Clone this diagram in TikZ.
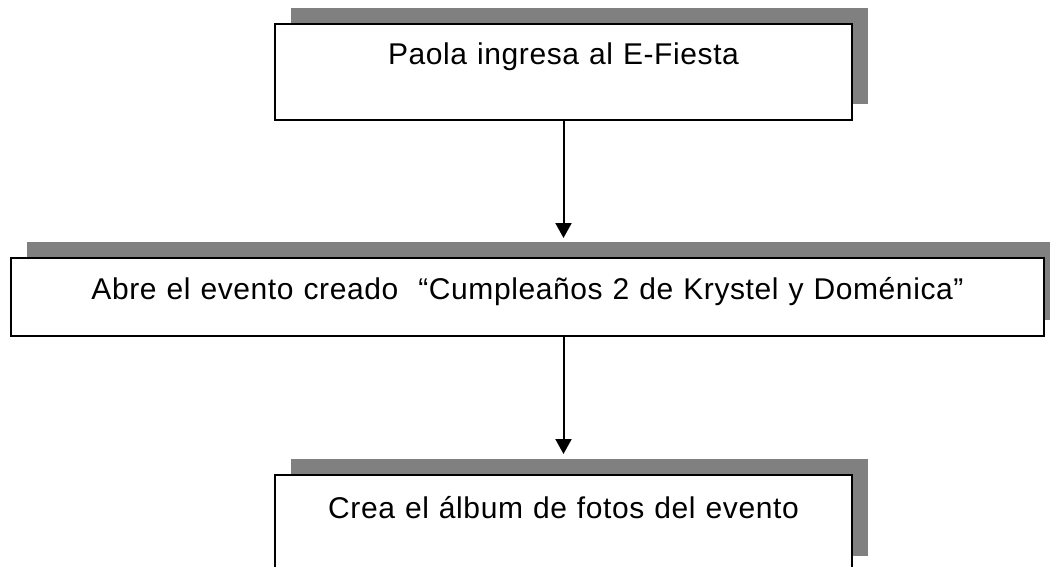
\documentclass[tikz,border=0pt]{standalone}
\usepackage{fontspec}
\setmainfont{Liberation Sans}
\newfontfamily\cajafont{Liberation Sans}[LetterSpace=2]
\usepackage{tikz}
\usetikzlibrary{arrows.meta,positioning,shadows}

\begin{document}
\begin{tikzpicture}[x=1pt,y=-1pt,
        paso/.style={draw,line width=2pt,fill=white,inner sep=0pt,align=center,anchor=north west,
            font=\cajafont\fontsize{30}{36}\selectfont,
            drop shadow={shadow xshift=16pt,shadow yshift=16pt,fill=gray,opacity=1}},
        flecha/.style={-{Triangle[width=16pt,length=15pt]},line width=2pt}]
            % page of the reference
            \useasboundingbox (0,0) rectangle (1050,567);
            \clip (0,0) rectangle (1050,567);
            % the three steps, text near the top of each box
            \node[paso,text width=577pt,text height=41pt,text depth=55pt] (ingreso) at (274,23) {Paola ingresa al E-Fiesta};
            \node[paso,text width=1033pt,text height=41pt,text depth=37pt] (evento) at (10,257) {Abre el evento creado~ “Cumpleaños 2 de Krystel y Doménica”};
            \node[paso,text width=577pt,text height=43pt,text depth=54pt] (album) at (274,474) {Crea el álbum de fotos del evento};
            % arrows down to the shadow of the next box
            \draw[flecha] (ingreso.south) -- ([yshift=19pt]ingreso.south |- evento.north);
            \draw[flecha] (evento.south -| album.north) -- ([yshift=20pt]album.north);
        \end{tikzpicture}
\end{document}
